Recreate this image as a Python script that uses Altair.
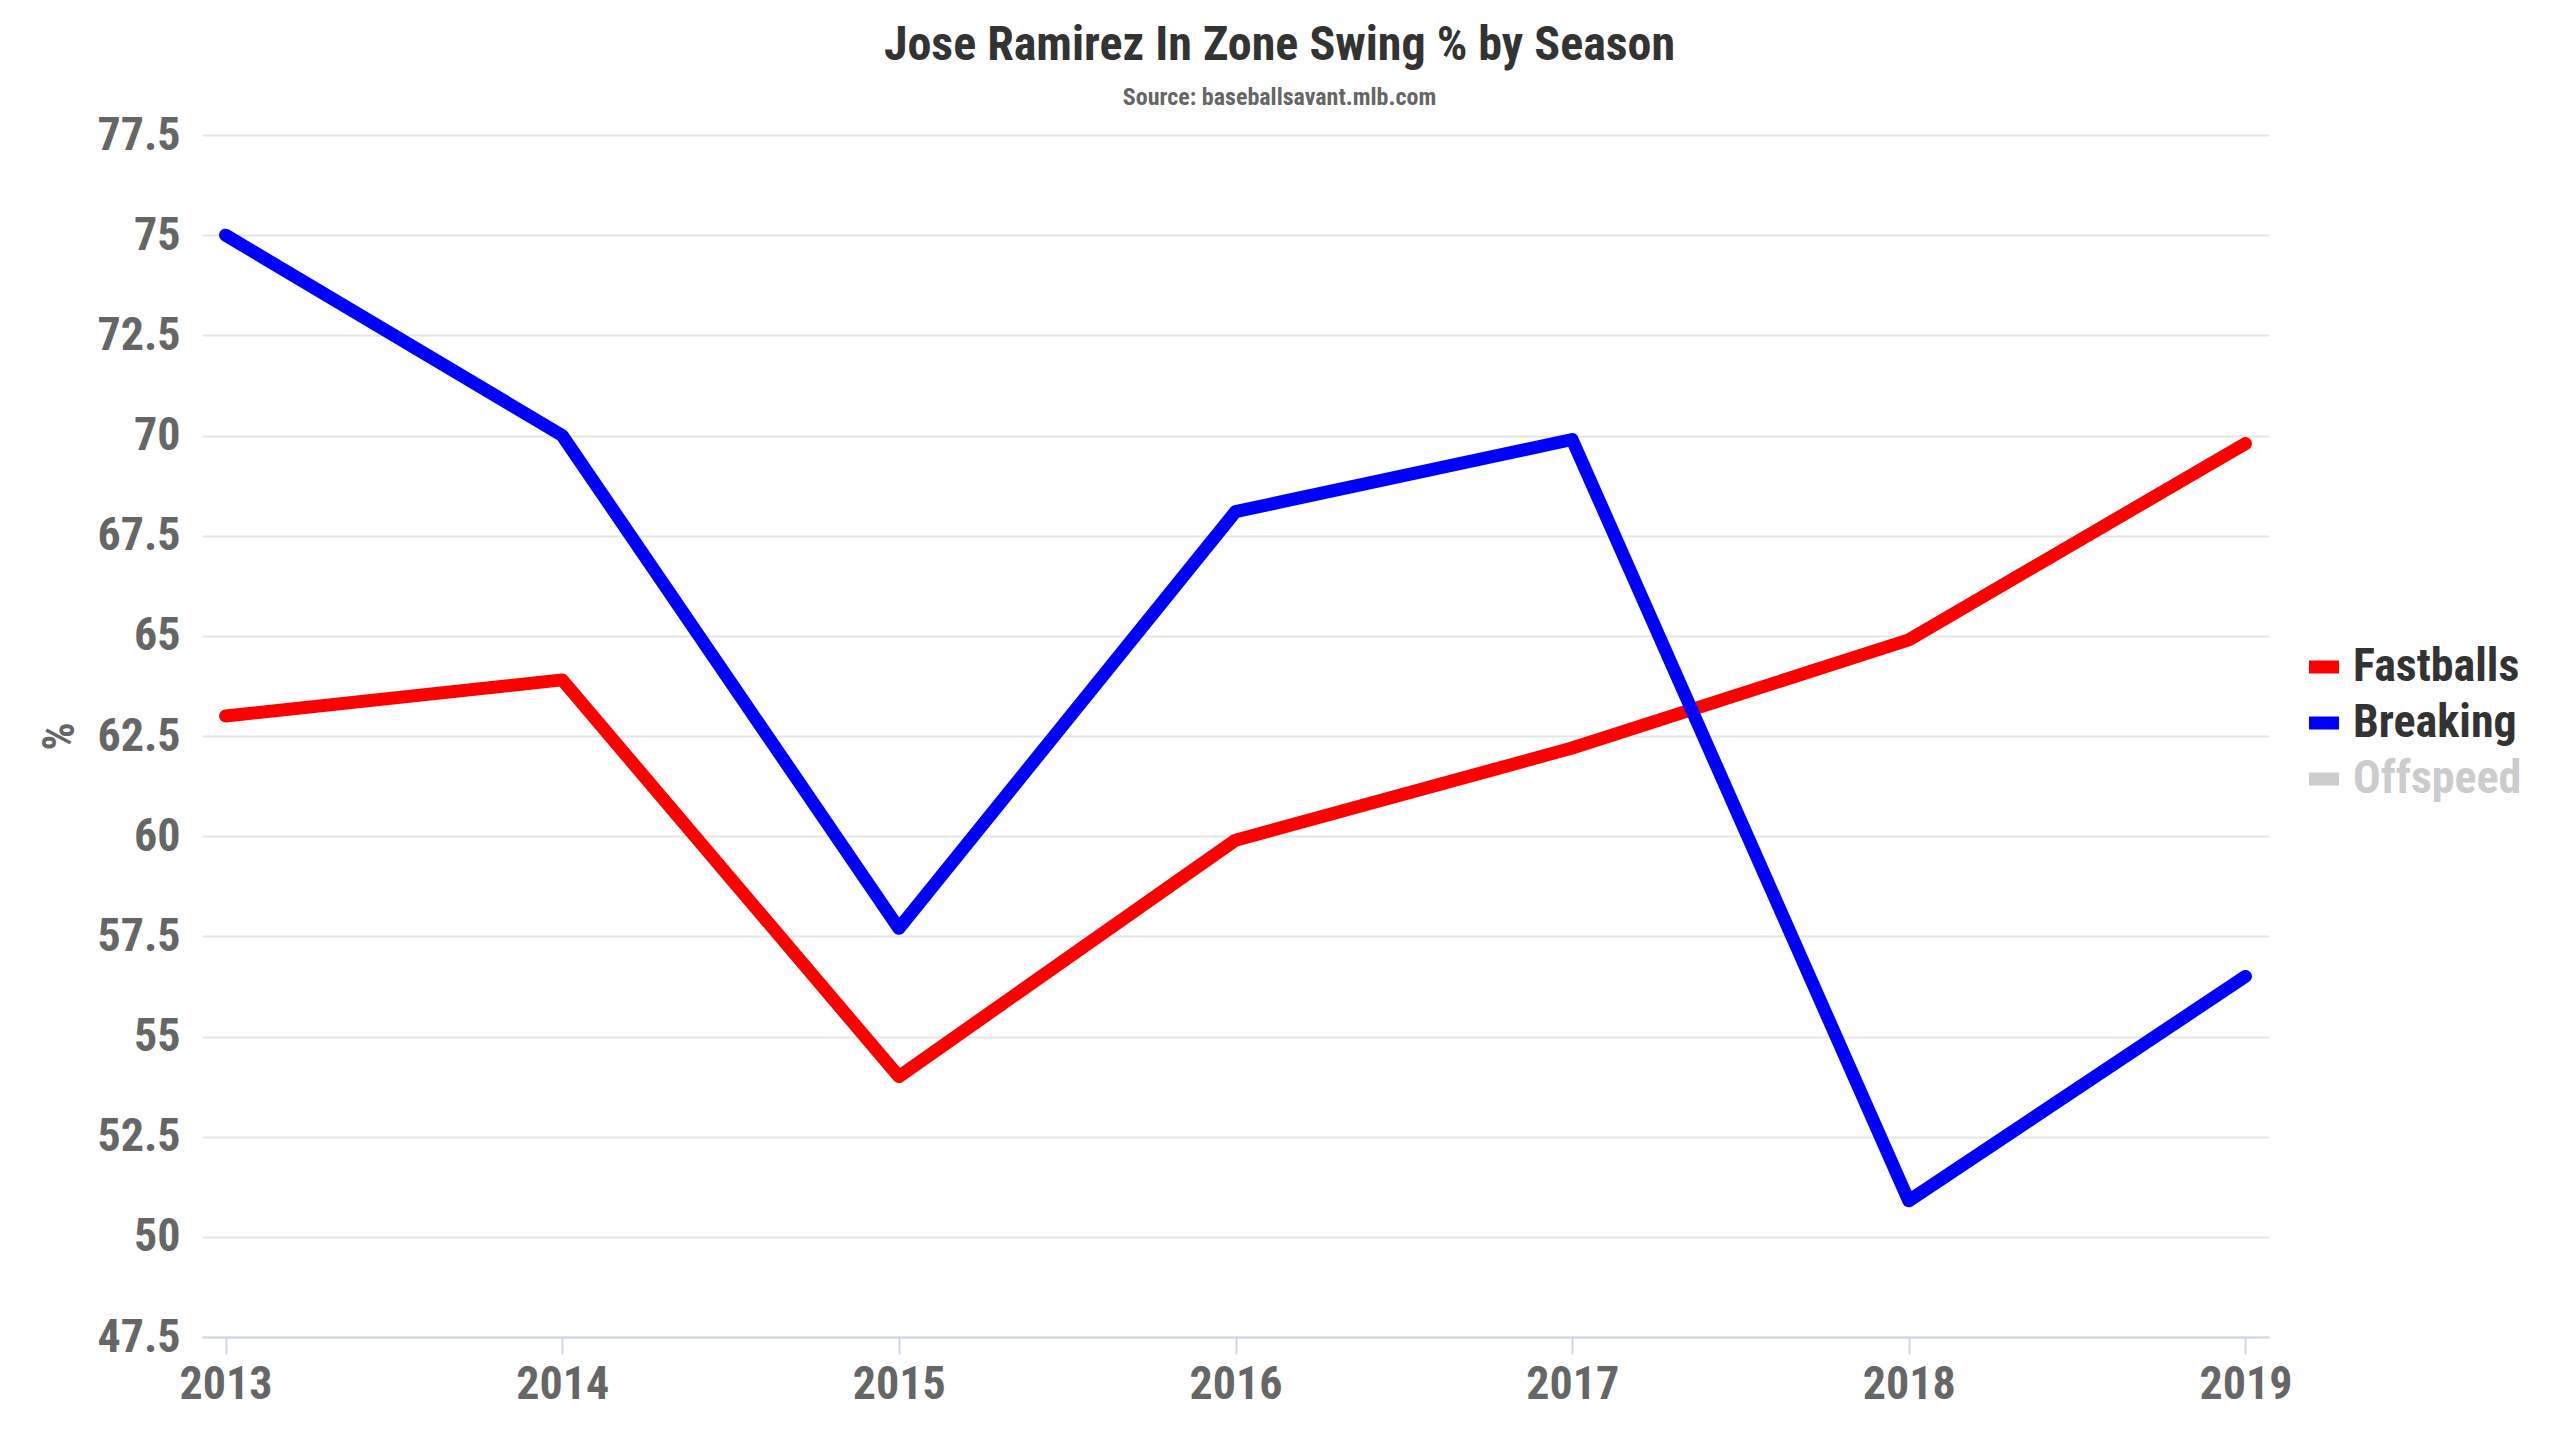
import altair as alt
import pandas as pd

years = [2013, 2014, 2015, 2016, 2017, 2018, 2019]
fastballs = [63.0, 63.9, 54.0, 59.9, 62.2, 64.9, 69.8]
breaking = [75.0, 70.0, 57.7, 68.1, 69.9, 50.9, 56.5]
series_names = ["Fastballs", "Breaking", "Offspeed"]
series_colors = ["#ff0000", "#0000ff", "#cccccc"]
y_ticks = [47.5, 50, 52.5, 55, 57.5, 60, 62.5, 65, 67.5, 70, 72.5, 75, 77.5]

rows = []
for yr, v in zip(years, fastballs):
    rows.append({"Season": str(yr), "Pitch": "Fastballs", "Value": v})
for yr, v in zip(years, breaking):
    rows.append({"Season": str(yr), "Pitch": "Breaking", "Value": v})
df = pd.DataFrame(rows)

FONT = "'Roboto Condensed', 'Liberation Sans Narrow', 'Arial Narrow', Roboto, sans-serif"

chart = alt.Chart(df).mark_line(
    strokeWidth=13, strokeCap="round", strokeJoin="round"
).encode(
    x=alt.X(
        "Season:O",
        sort=[str(y) for y in years],
        scale=alt.Scale(type="point", padding=0.07),
        axis=alt.Axis(
            title=None, labelAngle=0, grid=False,
            domainColor="#ccd6eb", domainWidth=2,
            tickColor="#ccd6eb", tickWidth=2, tickSize=17,
            labelPadding=8, labelFontSize=46, labelFontWeight="bold",
            labelColor="#666666", labelFont=FONT,
        ),
    ),
    y=alt.Y(
        "Value:Q",
        scale=alt.Scale(domain=[47.5, 77.5], nice=False, zero=False),
        axis=alt.Axis(
            title="%", values=y_ticks, labelExpr="toString(datum.value)",
            grid=True, gridColor="#e6e6e6", gridWidth=2,
            domain=False, ticks=False, labelPadding=22,
            labelFontSize=46, labelFontWeight="bold", labelColor="#666666",
            labelFont=FONT,
            titleFontSize=44, titleFontWeight="bold", titleColor="#666666",
            titleFont=FONT, titleAngle=-90, titleX=-142, titleY=601,
            titleAlign="center", titleBaseline="middle",
        ),
    ),
    color=alt.Color(
        "Pitch:N",
        scale=alt.Scale(domain=series_names, range=series_colors),
        legend=alt.Legend(
            title=None, orient="none", legendX=2099, legendY=509,
            padding=0, symbolType="stroke", symbolSize=900,
            symbolStrokeWidth=13, rowPadding=4, labelOffset=6,
            labelFontSize=46, labelFontWeight="bold", labelFont=FONT,
            labelColor={"expr": "datum.label == 'Offspeed' ? '#cccccc' : '#333333'"},
            labelLimit=400,
        ),
    ),
).properties(
    width=2067,
    height=1202,
    padding={"left": 194, "top": 127, "right": 283, "bottom": 95},
    autosize=alt.AutoSizeParams(type="none"),
    title=alt.TitleParams(
        text="Jose Ramirez In Zone Swing % by Season",
        subtitle="Source: baseballsavant.mlb.com",
        anchor="middle", dx=44, offset=2,
        font=FONT, fontSize=48, fontWeight="bold", color="#333333",
        subtitleFont=FONT, subtitleFontSize=24, subtitleFontWeight="bold",
        subtitleColor="#666666", subtitlePadding=16,
    ),
).configure(
    background="white",
    view=alt.ViewConfig(stroke=None),
)

chart.save("out.html", embed_options={"renderer": "svg", "actions": False})
